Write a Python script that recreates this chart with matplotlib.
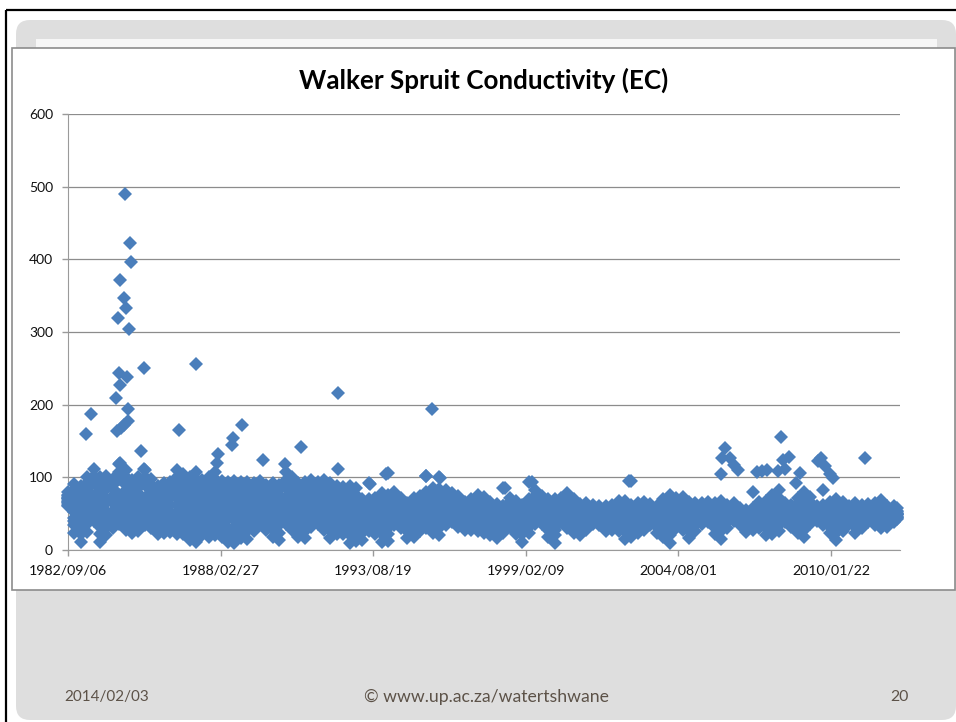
import matplotlib
matplotlib.use('Agg')
import matplotlib.pyplot as plt
from matplotlib.patches import FancyBboxPatch, Rectangle

# days since 1982/09/06
days = [0,84,168,252,336,419,503,587,671,755,839,923,1007,1091,1175,1258,1342,1426,1510,1594,
        1678,1762,1846,1929,2013,2097,2181,2265,2349,2433,2517,2601,2684,2768,2852,2936,3020,3104,3188,3272,
        3356,3440,3523,3607,3691,3775,3859,3943,4027,4111,4195,4278,4362,4446,4530,4614,4698,4782,4866,4950,
        5034,5117,5201,5285,5369,5453,5537,5621,5705,5789,5872,5956,6040,6124,6208,6292,6376,6460,6544,6627,
        6711,6795,6879,6963,7047,7131,7215,7299,7382,7466,7550,7634,7718,7802,7886,7970,8054,8137,8221,8305,
        8389,8473,8557,8641,8725,8809,8892,8976,9060,9144,9228,9312,9396,9480,9564,9647,9731,9815,9899,9983,
        10067,10151,10235,10319,10402,10486,10570,10654,10738,10822,10865]

ec_high = [80,91,88,100,112,100,102,98,118,110,96,100,110,98,88,92,94,110,104,101,
           108,96,100,108,95,94,95,93,94,92,95,90,92,89,108,100,92,94,96,94,
           96,92,88,87,88,85,70,92,72,78,106,80,72,64,72,75,102,86,101,82,
           78,74,66,70,76,73,66,63,86,72,68,62,94,83,74,70,70,72,78,70,
           63,65,62,61,60,62,68,68,95,64,66,63,60,70,76,72,73,66,64,64,
           66,64,68,62,65,58,55,80,66,68,76,83,64,62,72,80,73,60,62,66,
           70,66,60,65,62,63,65,69,60,60,58]
ec_up1 = [76,82,80,92,102,92,92,90,108,100,88,92,100,90,80,84,86,100,96,92,
          98,88,92,98,86,86,86,84,86,84,86,82,84,82,96,92,82,86,86,86,
          86,84,80,78,78,76,64,68,66,70,76,72,66,60,66,68,80,78,84,74,
          70,68,60,64,68,66,60,58,60,66,62,58,70,74,68,64,64,66,70,64,
          58,60,58,56,56,58,62,62,62,58,60,58,56,64,68,66,66,60,58,58,
          60,58,62,58,60,54,50,58,60,62,68,72,58,56,64,70,66,56,58,60,
          64,60,56,60,58,58,60,62,56,56,54]
ec_up2 = [72,76,76,86,92,84,84,84,98,90,82,86,90,84,76,78,80,90,88,86,
          88,82,86,88,78,78,78,76,78,76,78,74,76,74,86,84,74,78,78,78,
          78,76,72,70,70,68,58,62,60,62,68,64,58,54,58,60,72,70,76,66,
          64,60,54,58,60,58,54,52,54,58,54,52,64,68,62,58,56,58,62,58,
          52,54,50,50,50,50,54,54,54,52,54,52,50,56,58,58,58,54,52,52,
          54,50,54,50,54,48,46,52,54,56,58,62,52,50,56,60,56,50,52,54,
          56,54,50,54,52,52,54,56,50,50,50]
ec_mid_a = [74,80,72,82,74,80,72,84,76,82,74,78,72,80,74,78,72,82,76,80,
            74,78,72,80,72,76,70,78,72,76,70,76,70,76,72,78,70,76,72,76,
            70,74,66,72,66,70,64,70,64,68,64,70,62,60,60,64,66,72,68,70,
            64,66,60,62,62,64,58,56,60,62,58,56,62,66,60,62,60,62,64,60,
            56,58,54,54,54,54,58,58,58,56,58,56,54,60,62,62,62,58,56,56,
            58,56,60,54,58,50,48,56,58,60,62,68,56,54,58,66,62,52,56,58,
            60,58,54,58,56,56,58,60,54,52,52]
ec_mid_d = [72,70,64,74,66,70,64,74,66,72,64,70,62,72,64,70,62,72,66,70,
            64,68,62,70,62,68,60,68,62,66,60,68,62,68,62,70,62,68,64,68,
            62,66,58,64,58,62,56,62,58,60,58,62,54,52,52,56,58,62,58,60,
            56,58,52,54,54,56,52,50,52,54,52,50,54,58,54,56,52,54,56,52,
            50,52,48,48,48,48,52,52,52,50,52,50,48,54,54,56,56,52,50,50,
            52,48,52,48,52,46,44,50,52,52,54,56,50,48,52,58,56,48,52,52,
            52,52,48,52,50,50,52,54,50,48,50]
ec_mid_b = [70,62,56,66,56,62,54,64,56,62,54,60,52,62,54,60,52,62,56,60,
            52,60,52,62,54,60,52,60,54,58,52,60,54,60,54,62,54,60,56,60,
            54,58,50,56,50,54,48,54,50,54,50,54,48,46,46,50,52,54,52,52,
            50,50,46,48,48,50,46,44,46,48,46,44,48,50,48,50,46,48,50,46,
            44,46,44,44,44,44,46,46,46,44,46,44,44,48,46,50,50,46,46,46,
            48,44,46,44,48,44,42,46,46,46,48,50,46,44,46,50,50,46,48,46,
            46,46,44,46,46,46,48,48,46,46,48]
ec_mid_e = [68,52,46,58,50,52,46,54,50,52,46,52,48,52,46,50,44,52,46,50,
            44,52,44,52,46,50,42,50,44,50,48,52,44,50,48,52,46,50,48,52,
            46,50,42,48,42,46,42,46,42,46,42,48,42,40,40,44,44,46,44,46,
            46,44,40,42,42,42,40,38,40,42,40,36,42,46,44,42,38,46,44,40,
            38,42,42,42,40,42,40,38,38,38,40,42,40,40,36,44,44,40,40,44,
            44,40,38,40,46,42,38,42,42,40,42,44,44,40,40,42,46,44,44,42,
            40,42,42,40,42,44,44,42,42,44,46]
ec_mid_c = [66,44,38,48,44,44,38,46,44,42,38,44,42,44,38,42,38,44,38,42,
            36,44,36,44,38,42,32,42,36,42,42,44,36,42,42,44,38,42,40,44,
            38,42,34,40,36,40,34,40,36,40,36,42,38,34,34,38,38,38,36,38,
            42,40,36,38,36,36,34,32,34,38,34,30,36,42,42,36,32,44,40,36,
            34,38,42,40,36,38,36,32,32,32,36,40,36,34,30,38,38,34,36,42,
            42,36,30,38,44,40,36,38,38,36,36,38,42,38,36,36,42,44,40,38,
            34,38,40,36,38,42,40,38,38,42,44]
ec_lo2 = [64,40,30,42,50,32,38,44,48,44,38,42,48,44,40,40,42,40,40,32,
          32,38,36,38,36,30,30,34,34,40,48,42,36,34,48,42,36,34,44,48,
          42,36,36,36,28,30,32,38,36,30,30,46,42,32,36,38,42,38,38,44,
          48,44,42,40,40,40,36,34,38,44,38,32,38,46,46,36,28,48,44,38,
          38,42,46,44,40,42,40,34,36,38,42,44,38,36,30,42,42,34,40,46,
          48,38,34,44,50,44,38,42,42,38,36,42,48,44,38,36,46,50,44,38,
          34,40,46,38,42,48,44,44,44,48,50]
ec_lo1 = [62,34,22,36,46,22,30,38,42,36,32,36,42,38,32,34,34,32,32,24,
          22,30,28,30,28,22,20,26,26,34,42,36,28,24,42,36,28,26,38,42,
          36,28,30,30,20,22,24,32,30,22,22,40,36,26,28,32,36,32,30,40,
          44,38,36,34,34,32,30,26,32,38,30,22,32,42,42,28,20,44,38,32,
          30,36,42,40,34,36,34,26,28,32,34,40,32,28,20,36,36,26,34,42,
          44,30,26,38,46,40,32,36,36,30,30,34,44,38,32,28,42,46,40,32,
          24,34,42,32,38,44,40,38,38,44,46]
ec_low = [60,24,11,25,40,11,20,30,36,28,23,26,34,30,22,24,25,22,22,14,
          11,20,18,20,18,11,9,16,15,26,36,28,18,14,36,28,18,16,32,36,
          28,17,22,22,10,12,14,26,22,11,12,34,30,16,18,26,30,24,20,34,
          38,32,28,27,26,24,21,17,24,32,22,11,24,36,36,18,10,38,30,24,
          20,28,36,34,26,28,26,15,18,24,27,34,24,18,10,30,28,16,26,36,
          38,22,15,30,40,34,25,28,30,20,22,26,38,32,24,18,36,40,34,24,
          14,26,36,24,30,38,34,30,32,38,42]

# isolated high readings
spike_days = [747,813,826,682,734,760,655,799,668,773,682,629,786,996,1678,786,734,695,642,301,
              236,1455,957,2280,2162,2149,1966,1953,2556,3054,3539,4771,2844,3539,996,682,4692,4875,4168,3958,
              5727,6081,7352,9345,8615,8567,8676,8733,8785,8558,9026,9091,9165,9310,9397,9375,9450,9594,9537,9869,
              9834,9921,9987,10031,9899,10446]
spike_ec = [490,422,396,371,347,333,319,304,243,238,227,209,194,250,256,177,172,168,164,187,
            160,165,136,172,154,144,132,120,124,142,216,194,118,111,111,120,102,99,105,91,
            85,93,95,155,141,127,126,117,110,104,107,109,110,109,112,124,128,106,92,127,
            122,115,105,99,83,126]

tick_days = [0,2000,4000,6000,8000,10000]
tick_dates = ['1982/09/06','1988/02/27','1993/08/19','1999/02/09','2004/08/01','2010/01/22']
y_ticks = [0,100,200,300,400,500,600]

W, H = 956, 722
fig = plt.figure(figsize=(W/100, H/100), dpi=100, facecolor='white')

# slide behind the chart, in pixels
bg = fig.add_axes([0, 0, 1, 1], zorder=0)
bg.set_xlim(0, W)
bg.set_ylim(H, 0)
bg.axis('off')
bg.add_patch(FancyBboxPatch((16, 20), 940, 700, boxstyle='round,pad=0,rounding_size=14', lw=0, fc='#dedede'))
bg.add_patch(Rectangle((36, 39), 901, 9, lw=0, fc='#f6f6f6'))
bg.add_patch(Rectangle((12, 47.5), 943, 542, lw=1.2, ec='#8c8c8c', fc='white'))
bg.plot([6.5, 6.5], [10, H], color='black', lw=1.6, solid_capstyle='butt')
bg.plot([6, W], [10, 10], color='black', lw=1.6, solid_capstyle='butt')

bg.text(484, 80, 'Walker Spruit Conductivity (EC)', fontsize=18.7, fontweight='bold',
        family='Lato', ha='center', va='center', color='black')
foot = '#5c5248'
bg.text(64, 697, '2014/02/03', fontsize=11, family='Lato', color=foot, va='center')
bg.text(486, 697, '© www.up.ac.za/watertshwane', fontsize=12.7, family='Lato', color=foot, va='center', ha='center')
bg.text(909, 697, '20', fontsize=11.4, family='Lato', color=foot, va='center', ha='right')

ax = fig.add_axes([68/W, (H-550)/H, (900-68)/W, (550-114)/H], zorder=1)
ax.patch.set_alpha(0)
ax.set_xlim(0, 10904)
ax.set_ylim(0, 600)

band = [ec_high, ec_up1, ec_up2, ec_mid_a, ec_mid_d, ec_mid_b, ec_mid_e, ec_mid_c, ec_lo2, ec_lo1, ec_low]
for series in band:
    ax.plot(days, series, ls='none', marker='D', ms=7.6, mew=0, color='#4a7ebb', clip_on=False, zorder=3)
ax.plot(spike_days, spike_ec, ls='none', marker='D', ms=7.4, mew=0, color='#4a7ebb', clip_on=False, zorder=3)

ax.set_xticks(tick_days)
ax.set_xticklabels(tick_dates, fontsize=10.2, family='Lato')
ax.set_yticks(y_ticks)
ax.set_yticklabels([str(v) for v in y_ticks], fontsize=10, family='Lato')
ax.tick_params(axis='x', length=4.3, width=1, color='#9a9a9a', labelcolor='#111111', pad=6)
ax.tick_params(axis='y', length=4.3, width=1, color='#9a9a9a', labelcolor='#111111', pad=6.5)
ax.yaxis.grid(True, color='#8c8c8c', lw=0.9)
ax.set_axisbelow(True)
ax.spines['top'].set_visible(False)
ax.spines['right'].set_visible(False)
ax.spines['left'].set_color('#9a9a9a')
ax.spines['bottom'].set_color('#9a9a9a')

fig.savefig('out.png', dpi=100)
